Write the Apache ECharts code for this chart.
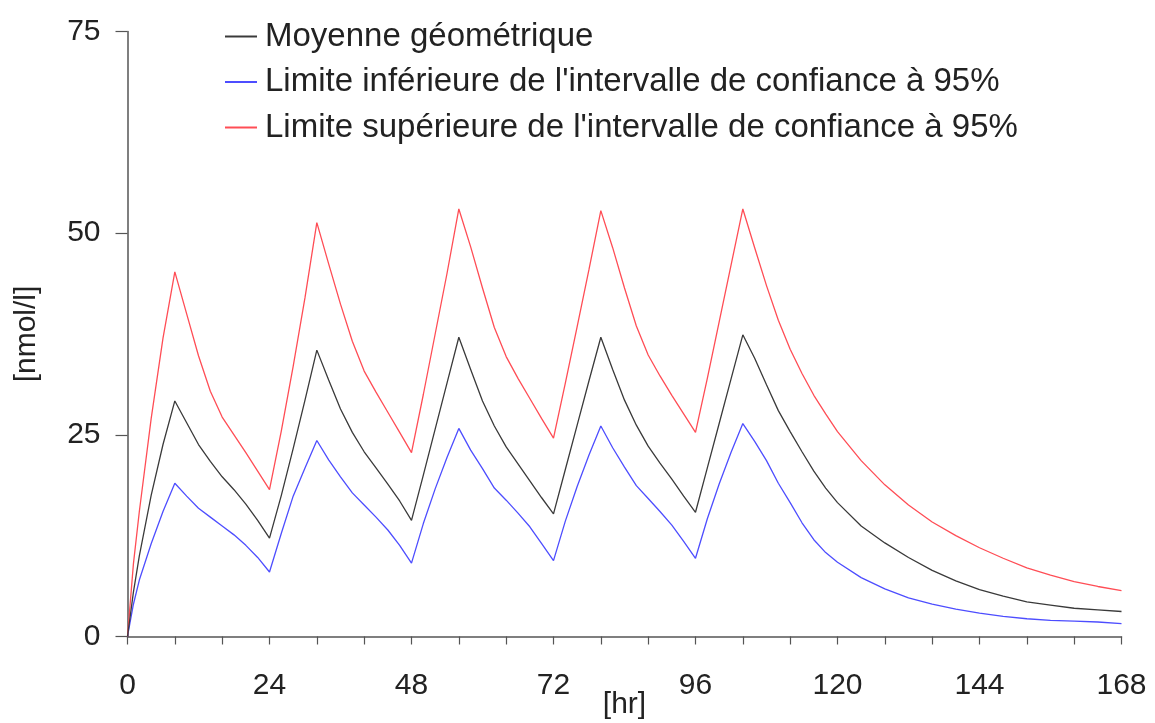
<!DOCTYPE html>
<html>
<head>
<meta charset="utf-8">
<script src="https://cdn.jsdelivr.net/npm/echarts@6/dist/echarts.min.js"></script>
<style>
html,body{margin:0;padding:0;background:#fff;}
#chart{width:1155px;height:723px;}
</style>
</head>
<body>
<div id="chart"></div>
<script>
const hours = [0,1,2,4,6,8,10,12,14,16,18,20,22,24,26,28,30,32,34,36,38,40,42,44,46,48,50,52,54,56,58,60,62,64,66,68,70,72,74,76,78,80,82,84,86,88,90,92,94,96,98,100,102,104,106,108,110,112,114,116,118,120,124,128,132,136,140,144,148,152,156,160,164,168];

const geoMean = [0,5.5,10,17.5,23.8,29.2,
  26.5,23.8,21.7,19.8,18.2,16.4,14.4,12.2,
  17.5,23.3,29.3,35.5,
  31.8,28.2,25.3,22.9,20.9,18.9,16.8,14.4,
  20.0,25.7,31.4,37.1,
  33.1,29.2,26.1,23.5,21.4,19.3,17.2,15.2,
  20.7,26.2,31.7,37.1,
  33.1,29.3,26.2,23.6,21.5,19.5,17.4,15.4,
  20.9,26.4,31.9,37.4,
  34.5,31.2,28.0,25.4,22.9,20.5,18.4,16.6,
  13.7,11.6,9.8,8.2,6.9,5.8,5.0,4.3,3.9,3.5,3.3,3.1];

const lowerCI = [0,4,7,11.5,15.5,19.0,
  17.4,15.9,14.8,13.7,12.6,11.3,9.8,8.0,
  12.8,17.4,20.9,24.3,
  21.9,19.8,17.8,16.3,14.8,13.2,11.3,9.1,
  14.0,18.3,22.2,25.8,
  23.1,20.8,18.4,16.9,15.3,13.6,11.5,9.4,
  14.3,18.6,22.5,26.1,
  23.4,21.0,18.7,17.1,15.5,13.8,11.8,9.7,
  14.6,18.9,22.8,26.4,
  24.2,21.8,19.0,16.6,14.1,12.0,10.4,9.2,
  7.3,5.9,4.8,4.0,3.4,2.9,2.5,2.2,2.0,1.9,1.8,1.6];

const upperCI = [0,9,15.5,27,37,45.2,
  40,34.8,30.4,27.2,25.0,22.8,20.5,18.2,
  25.5,33.5,42.0,51.3,
  46.2,41.2,36.6,32.9,30.3,27.8,25.3,22.8,
  30.0,37.5,45.0,53.0,
  48.3,43.2,38.3,34.7,32.0,29.5,27.0,24.6,
  31.4,38.4,45.5,52.8,
  48.2,43.2,38.5,34.9,32.3,29.9,27.6,25.3,
  32.0,39.0,46.0,53.0,
  48.2,43.5,39.2,35.6,32.6,29.9,27.6,25.4,
  21.8,18.8,16.3,14.2,12.5,11.0,9.7,8.5,7.6,6.8,6.2,5.7];

const seriesNames = [
  "Moyenne géométrique",
  "Limite inférieure de l'intervalle de confiance à 95%",
  "Limite supérieure de l'intervalle de confiance à 95%"
];
const xTickLabels = [0,24,48,72,96,120,144,168];
const yTickLabels = [0,25,50,75];

const FONT = "'Liberation Sans', Arial, sans-serif";
const colors = ['#3a3a3a', '#4d4dff', '#ff4d55'];
const pair = (vals) => hours.map((h, i) => [h, vals[i]]);

const chart = echarts.init(document.getElementById('chart'), null, {renderer: 'canvas'});
chart.setOption({
  animation: false,
  backgroundColor: '#ffffff',
  color: colors,
  textStyle: {fontFamily: FONT},
  grid: {left: 127.5, right: 33.5, top: 31.5, bottom: 86.5, containLabel: false, outerBoundsMode: 'none'},
  legend: {
    orient: 'vertical',
    left: 220,
    top: 15,
    itemWidth: 32,
    itemHeight: 2,
    itemGap: 12.5,
    icon: 'rect',
    textStyle: {fontFamily: FONT, fontSize: 33, color: '#222', padding: [0,0,0,3]},
    data: seriesNames
  },
  xAxis: {
    type: 'value',
    min: 0, max: 168, interval: 8,
    name: '[hr]',
    nameLocation: 'middle',
    nameGap: 53,
    nameMoveOverlap: false,
    nameTextStyle: {fontFamily: FONT, fontSize: 30, color: '#222'},
    axisLine: {onZero: false, lineStyle: {color: '#555', width: 1.5}},
    axisTick: {show: true, length: 8, lineStyle: {color: '#555', width: 1.2}},
    axisLabel: {
      fontFamily: FONT, fontSize: 30, color: '#222', margin: 34,
      formatter: v => xTickLabels.indexOf(v) >= 0 ? String(v) : ''
    },
    splitLine: {show: false}
  },
  yAxis: {
    type: 'value',
    min: 0, max: 75, interval: 25,
    name: '[nmol/l]',
    nameLocation: 'middle',
    nameGap: 86,
    nameMoveOverlap: false,
    nameTextStyle: {fontFamily: FONT, fontSize: 30, color: '#222'},
    axisLine: {show: true, lineStyle: {color: '#555', width: 1.5}},
    axisTick: {show: true, length: 12, lineStyle: {color: '#555', width: 1.2}},
    axisLabel: {
      fontFamily: FONT, fontSize: 30, color: '#222', margin: 27,
      formatter: v => yTickLabels.indexOf(v) >= 0 ? String(v) : ''
    },
    splitLine: {show: false}
  },
  series: [
    {name: seriesNames[0], type: 'line', data: pair(geoMean), symbol: 'none', lineStyle: {width: 1.3, color: colors[0]}, z: 3},
    {name: seriesNames[1], type: 'line', data: pair(lowerCI), symbol: 'none', lineStyle: {width: 1.3, color: colors[1]}, z: 2},
    {name: seriesNames[2], type: 'line', data: pair(upperCI), symbol: 'none', lineStyle: {width: 1.3, color: colors[2]}, z: 2}
  ]
});
</script>
</body>
</html>
